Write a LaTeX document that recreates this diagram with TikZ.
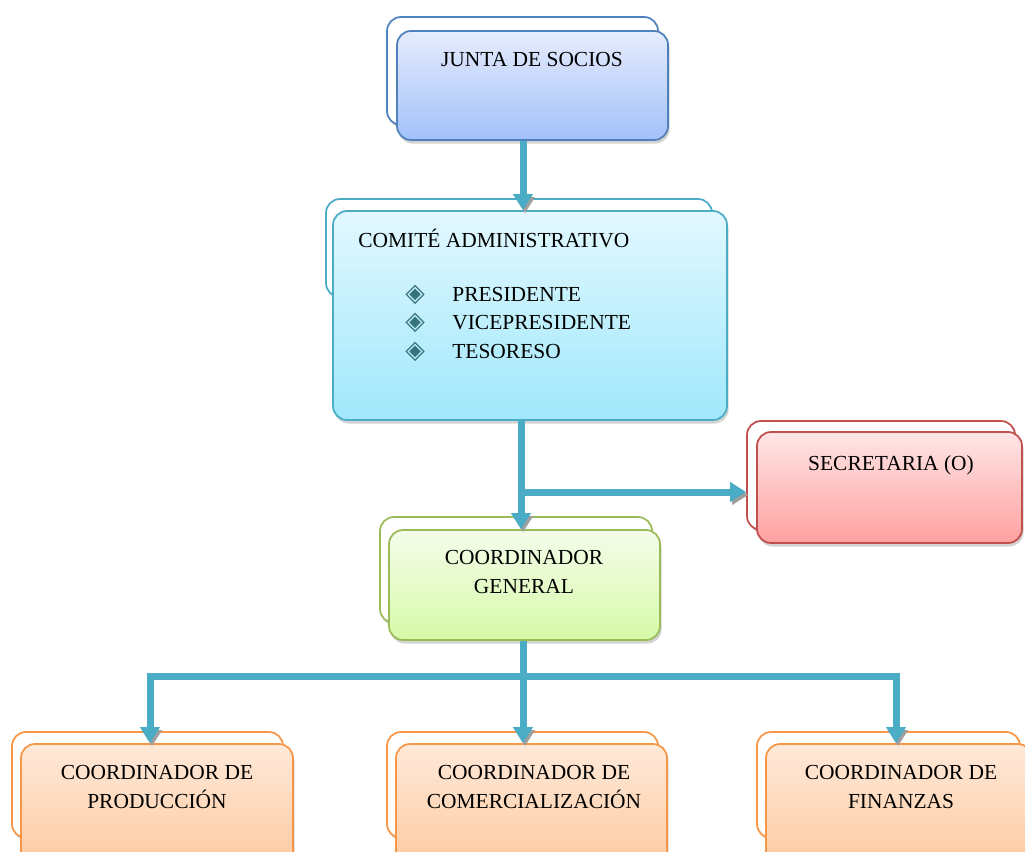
\documentclass[tikz,border=0pt]{standalone}
\usepackage{fontspec}
\setmainfont{Liberation Serif}
\newfontfamily\bulfont{DejaVu Sans}
\usetikzlibrary{arrows.meta, positioning, fit, shadows}

\definecolor{linkteal}{RGB}{75, 172, 198}
\definecolor{juntaline}{RGB}{79, 129, 189}
\definecolor{juntatop}{RGB}{230, 236, 253}
\definecolor{juntabot}{RGB}{163, 193, 250}
\definecolor{comiteline}{RGB}{75, 172, 198}
\definecolor{comitetop}{RGB}{226, 248, 254}
\definecolor{comitebot}{RGB}{160, 232, 252}
\definecolor{secreline}{RGB}{192, 80, 77}
\definecolor{secretop}{RGB}{255, 230, 230}
\definecolor{secrebot}{RGB}{255, 160, 160}
\definecolor{generalline}{RGB}{155, 187, 89}
\definecolor{generaltop}{RGB}{245, 252, 234}
\definecolor{generalbot}{RGB}{214, 250, 168}
\definecolor{coordline}{RGB}{247, 150, 70}
\definecolor{coordtop}{RGB}{255, 233, 216}
\definecolor{coordbot}{RGB}{252, 194, 148}
\definecolor{bulletteal}{RGB}{55, 115, 125}

\newcommand{\bul}{\makebox[9.4mm][l]{{\bulfont\fontsize{14.5}{14.5}\selectfont\color{bulletteal}◈}}}

\tikzset{
  backbox/.style={draw=#1line, fill=white, line width=0.35mm, rounded corners=2.8mm, inner sep=0pt,
    drop shadow={shadow xshift=0.3mm, shadow yshift=-0.6mm, opacity=0.3}},
  frontbox/.style={draw=#1line, top color=#1top, bottom color=#1bot, line width=0.35mm, rounded corners=2.8mm, inner sep=0pt,
    drop shadow={shadow xshift=0.3mm, shadow yshift=-0.7mm, opacity=0.35}},
  boxtext/.style={inner sep=0pt, align=center, font=\fontsize{12.2}{16.3}\selectfont},
  >={Triangle[length=3.2mm, width=3.8mm]},
  link/.style={line width=1.4mm, draw=linkteal, ->,
    preaction={draw=gray!75, transform canvas={xshift=0.4mm, yshift=-0.6mm}}}
}

\begin{document}
\begin{tikzpicture}[x=0.2mm, y=-0.2mm]
  \useasboundingbox (0,0) rectangle (1025,851);
  \clip (0,0) rectangle (1025,851);

  % Junta de socios
  \node[backbox=junta, fit={(387,17) (658,125)}] (juntaback) {};
  \node[frontbox=junta, fit={(397,31) (668,140)}] (junta) {};
  \node[boxtext, anchor=base] (juntatext) at (532,66) {JUNTA DE SOCIOS};

  % Comite administrativo
  \node[backbox=comite, fit={(326,199) (712,297)}] (comiteback) {};
  \node[frontbox=comite, fit={(333,211) (727,420)}] (comite) {};
  \node[boxtext, anchor=base west] (comitetext) at (358,247) {COMITÉ ADMINISTRATIVO};
  \node[boxtext, anchor=base west] (presidente) at (405,301) {\bul PRESIDENTE};
  \node[boxtext, anchor=base west] (vice) at (405,329) {\bul VICEPRESIDENTE};
  \node[boxtext, anchor=base west] (tesoreso) at (405,358) {\bul TESORESO};

  % Secretaria
  \node[backbox=secre, fit={(747,421) (1015,530)}] (secreback) {};
  \node[frontbox=secre, fit={(757,432) (1022,543)}] (secre) {};
  \node[boxtext, anchor=base] (secretext) at (891,470) {SECRETARIA (O)};

  % Coordinador general
  \node[backbox=general, fit={(380,517) (652,623)}] (generalback) {};
  \node[frontbox=general, fit={(389,530) (660,640)}] (general) {};
  \node[boxtext] (generaltext) at (524,572) {COORDINADOR\\GENERAL};

  % Coordinadores de area
  \node[backbox=coord, fit={(12,732) (283,838)}] (prodback) {};
  \node[frontbox=coord, fit={(21,744) (293,900)}] (prod) {};
  \node[boxtext] (prodtext) at (157,787) {COORDINADOR DE\\PRODUCCIÓN};

  \node[backbox=coord, fit={(387,732) (658,838)}] (comerback) {};
  \node[frontbox=coord, fit={(396,744) (667,900)}] (comer) {};
  \node[boxtext] (comertext) at (534,787) {COORDINADOR DE\\COMERCIALIZACIÓN};

  \node[backbox=coord, fit={(757,732) (1020,838)}] (finback) {};
  \node[frontbox=coord, fit={(766,744) (1032,900)}] (fin) {};
  \node[boxtext] (fintext) at (901,787) {COORDINADOR DE\\FINANZAS};

  % Connectors
  \coordinate (trunk) at (523,0);
  \coordinate (split) at (521,492);
  \coordinate (busl) at (150,676);
  \coordinate (busr) at (896,676);

  \draw[link] (junta.south -| trunk) -- (comite.north -| trunk);
  \draw[link] (comite.south -| split) -- (general.north -| split);
  \draw[link] (split) -- (split -| secreback.west);
  \draw[link, <->] (busl |- prod.north) -- (busl) -- (busr) -- (busr |- fin.north);
  \draw[link] (general.south -| trunk) -- (comer.north -| trunk);
\end{tikzpicture}
\end{document}
